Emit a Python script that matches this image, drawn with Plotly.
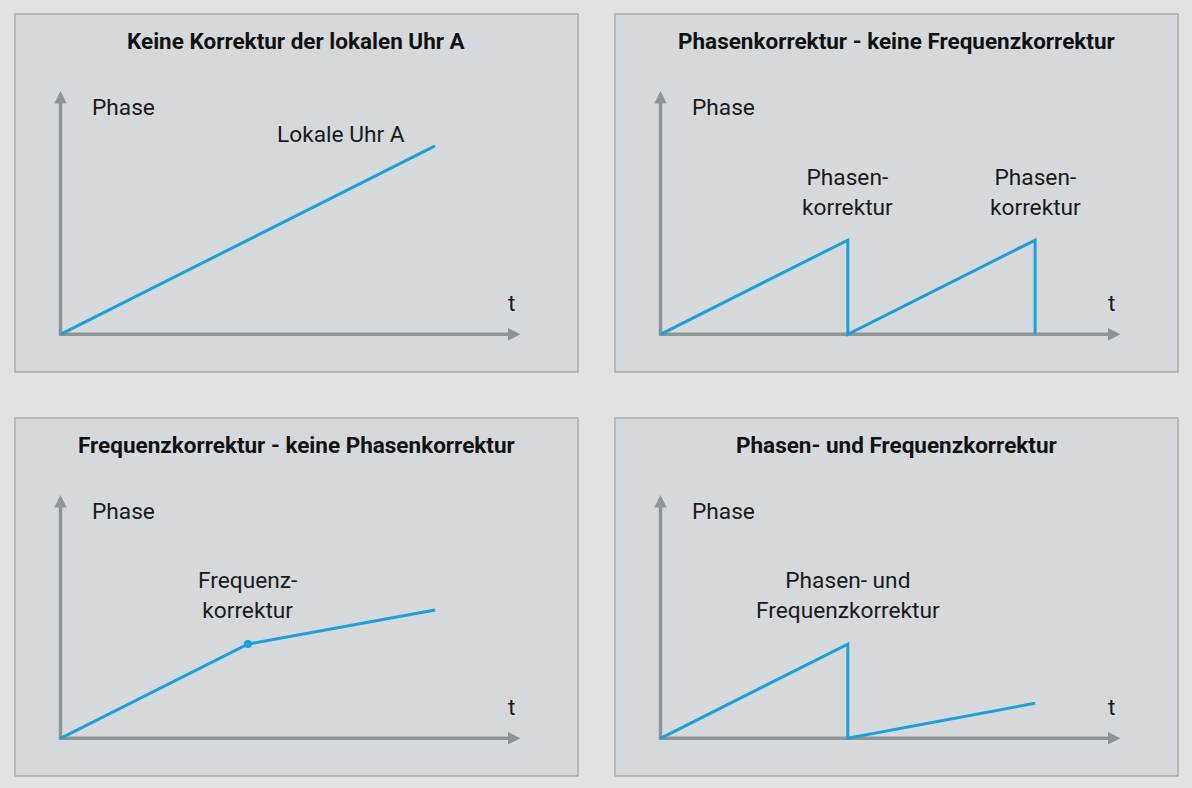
import plotly.graph_objects as go

W, H = 1192, 788

# ---- data ----
titles = [
    "Keine Korrektur der lokalen Uhr A",
    "Phasenkorrektur - keine Frequenzkorrektur",
    "Frequenzkorrektur - keine Phasenkorrektur",
    "Phasen- und Frequenzkorrektur",
]
curve_t = [
    [0, 2],
    [0, 1, 1, 2, 2],
    [0, 1, 2],
    [0, 1, 1, 2],
]
curve_phase = [
    [0, 2],
    [0, 1, 0, 1, 0],
    [0, 1, 1.362],
    [0, 1, 0, 0.372],
]
# annotation labels per panel: (t, phase, text)
label_t = [[1.495], [1.0, 2.0], [1.0], [1.0]]
label_phase = [[2.116], [1.505, 1.505], [1.521], [1.521]]
label_text = [
    ["Lokale Uhr A"],
    ["Phasen-<br>korrektur", "Phasen-<br>korrektur"],
    ["Frequenz-<br>korrektur"],
    ["Phasen- und<br>Frequenzkorrektur"],
]
dot_t = [[], [], [1.0], []]
dot_phase = [[], [], [1.0], []]

y_label = "Phase"
x_label = "t"

# ---- style ----
BG = "#e1e1e1"
PANEL = "#d6d9dc"
BORDER = "#a7acaf"
AXIS = "#8e9598"
BLUE = "#1ba0da"
TEXT = "#1a1a1a"
FONT = "Roboto"
FS = 22.7

# panel rectangles in pixels (x0, x1, y0, y1)
panels = [
    (15, 578, 14, 372),
    (615, 1178, 14, 372),
    (15, 578, 418, 776),
    (615, 1178, 418, 776),
]
ORIGIN_DX = 45.5      # px from panel left to origin
ORIGIN_DY = 37.7      # px from panel bottom to origin
SX = 187.3            # px per t unit
SY = 94.2             # px per phase unit
T_TIP = 2.456
P_TIP = 2.583
ARROW = 12.5

fig = go.Figure()
layout = dict(
    width=W, height=H,
    margin=dict(l=0, r=0, t=0, b=0),
    paper_bgcolor=BG, plot_bgcolor="rgba(0,0,0,0)",
    showlegend=False,
    font=dict(family=FONT, color=TEXT, size=FS),
)
shapes = []
annotations = []

for i, (px0, px1, py0, py1) in enumerate(panels):
    n = "" if i == 0 else str(i + 1)
    xa, ya = "x" + n, "y" + n
    pw, ph = px1 - px0, py1 - py0
    xr = [-ORIGIN_DX / SX, (pw - ORIGIN_DX) / SX]
    yr = [-ORIGIN_DY / SY, (ph - ORIGIN_DY) / SY]
    layout["xaxis" + n] = dict(domain=[px0 / W, px1 / W], range=xr, visible=False,
                                fixedrange=True, anchor=ya)
    layout["yaxis" + n] = dict(domain=[1 - py1 / H, 1 - py0 / H], range=yr, visible=False,
                                fixedrange=True, anchor=xa)
    shapes.append(dict(type="rect", xref=xa + " domain", yref=ya + " domain",
                       x0=0, x1=1, y0=0, y1=1, fillcolor=PANEL,
                       line=dict(color=BORDER, width=1.5), layer="below"))
    # axes with arrows
    xb = T_TIP - (ARROW - 2) / SX
    yb = P_TIP - (ARROW - 2) / SY
    fig.add_trace(go.Scatter(x=[0, 0, xb], y=[yb, 0, 0], mode="lines",
                             line=dict(color=AXIS, width=3.5), xaxis=xa, yaxis=ya,
                             hoverinfo="skip"))
    fig.add_trace(go.Scatter(x=[T_TIP], y=[0], mode="markers",
                             marker=dict(symbol="arrow-right", size=ARROW, color=AXIS,
                                         line=dict(width=0)),
                             xaxis=xa, yaxis=ya, hoverinfo="skip"))
    fig.add_trace(go.Scatter(x=[0], y=[P_TIP], mode="markers",
                             marker=dict(symbol="arrow-up", size=ARROW, color=AXIS,
                                         line=dict(width=0)),
                             xaxis=xa, yaxis=ya, hoverinfo="skip"))
    # curve
    fig.add_trace(go.Scatter(x=curve_t[i], y=curve_phase[i], mode="lines",
                             line=dict(color=BLUE, width=3), xaxis=xa, yaxis=ya,
                             hoverinfo="skip"))
    if dot_t[i]:
        fig.add_trace(go.Scatter(x=dot_t[i], y=dot_phase[i], mode="markers",
                                 marker=dict(color=BLUE, size=8), xaxis=xa, yaxis=ya,
                                 hoverinfo="skip"))
    # title
    annotations.append(dict(xref=xa + " domain", yref=ya + " domain", x=0.5,
                            y=1 - 27 / ph, text="<b>" + titles[i] + "</b>",
                            showarrow=False, xanchor="center", yanchor="middle",
                            font=dict(size=22.5, family=FONT, color="#111111")))
    # axis labels
    annotations.append(dict(xref=xa, yref=ya, x=(90 - 15 - ORIGIN_DX) / SX,
                            y=2.413, text=y_label, showarrow=False,
                            xanchor="left", yanchor="middle"))
    annotations.append(dict(xref=xa, yref=ya, x=2.41, y=0.332, text=x_label,
                            showarrow=False, xanchor="center", yanchor="middle"))
    for lt, lp, tx in zip(label_t[i], label_phase[i], label_text[i]):
        annotations.append(dict(xref=xa, yref=ya, x=lt, y=lp, text=tx,
                                showarrow=False, xanchor="center", yanchor="middle"))

layout["shapes"] = shapes
layout["annotations"] = annotations
fig.update_layout(**layout)
fig.write_html("out.html")
